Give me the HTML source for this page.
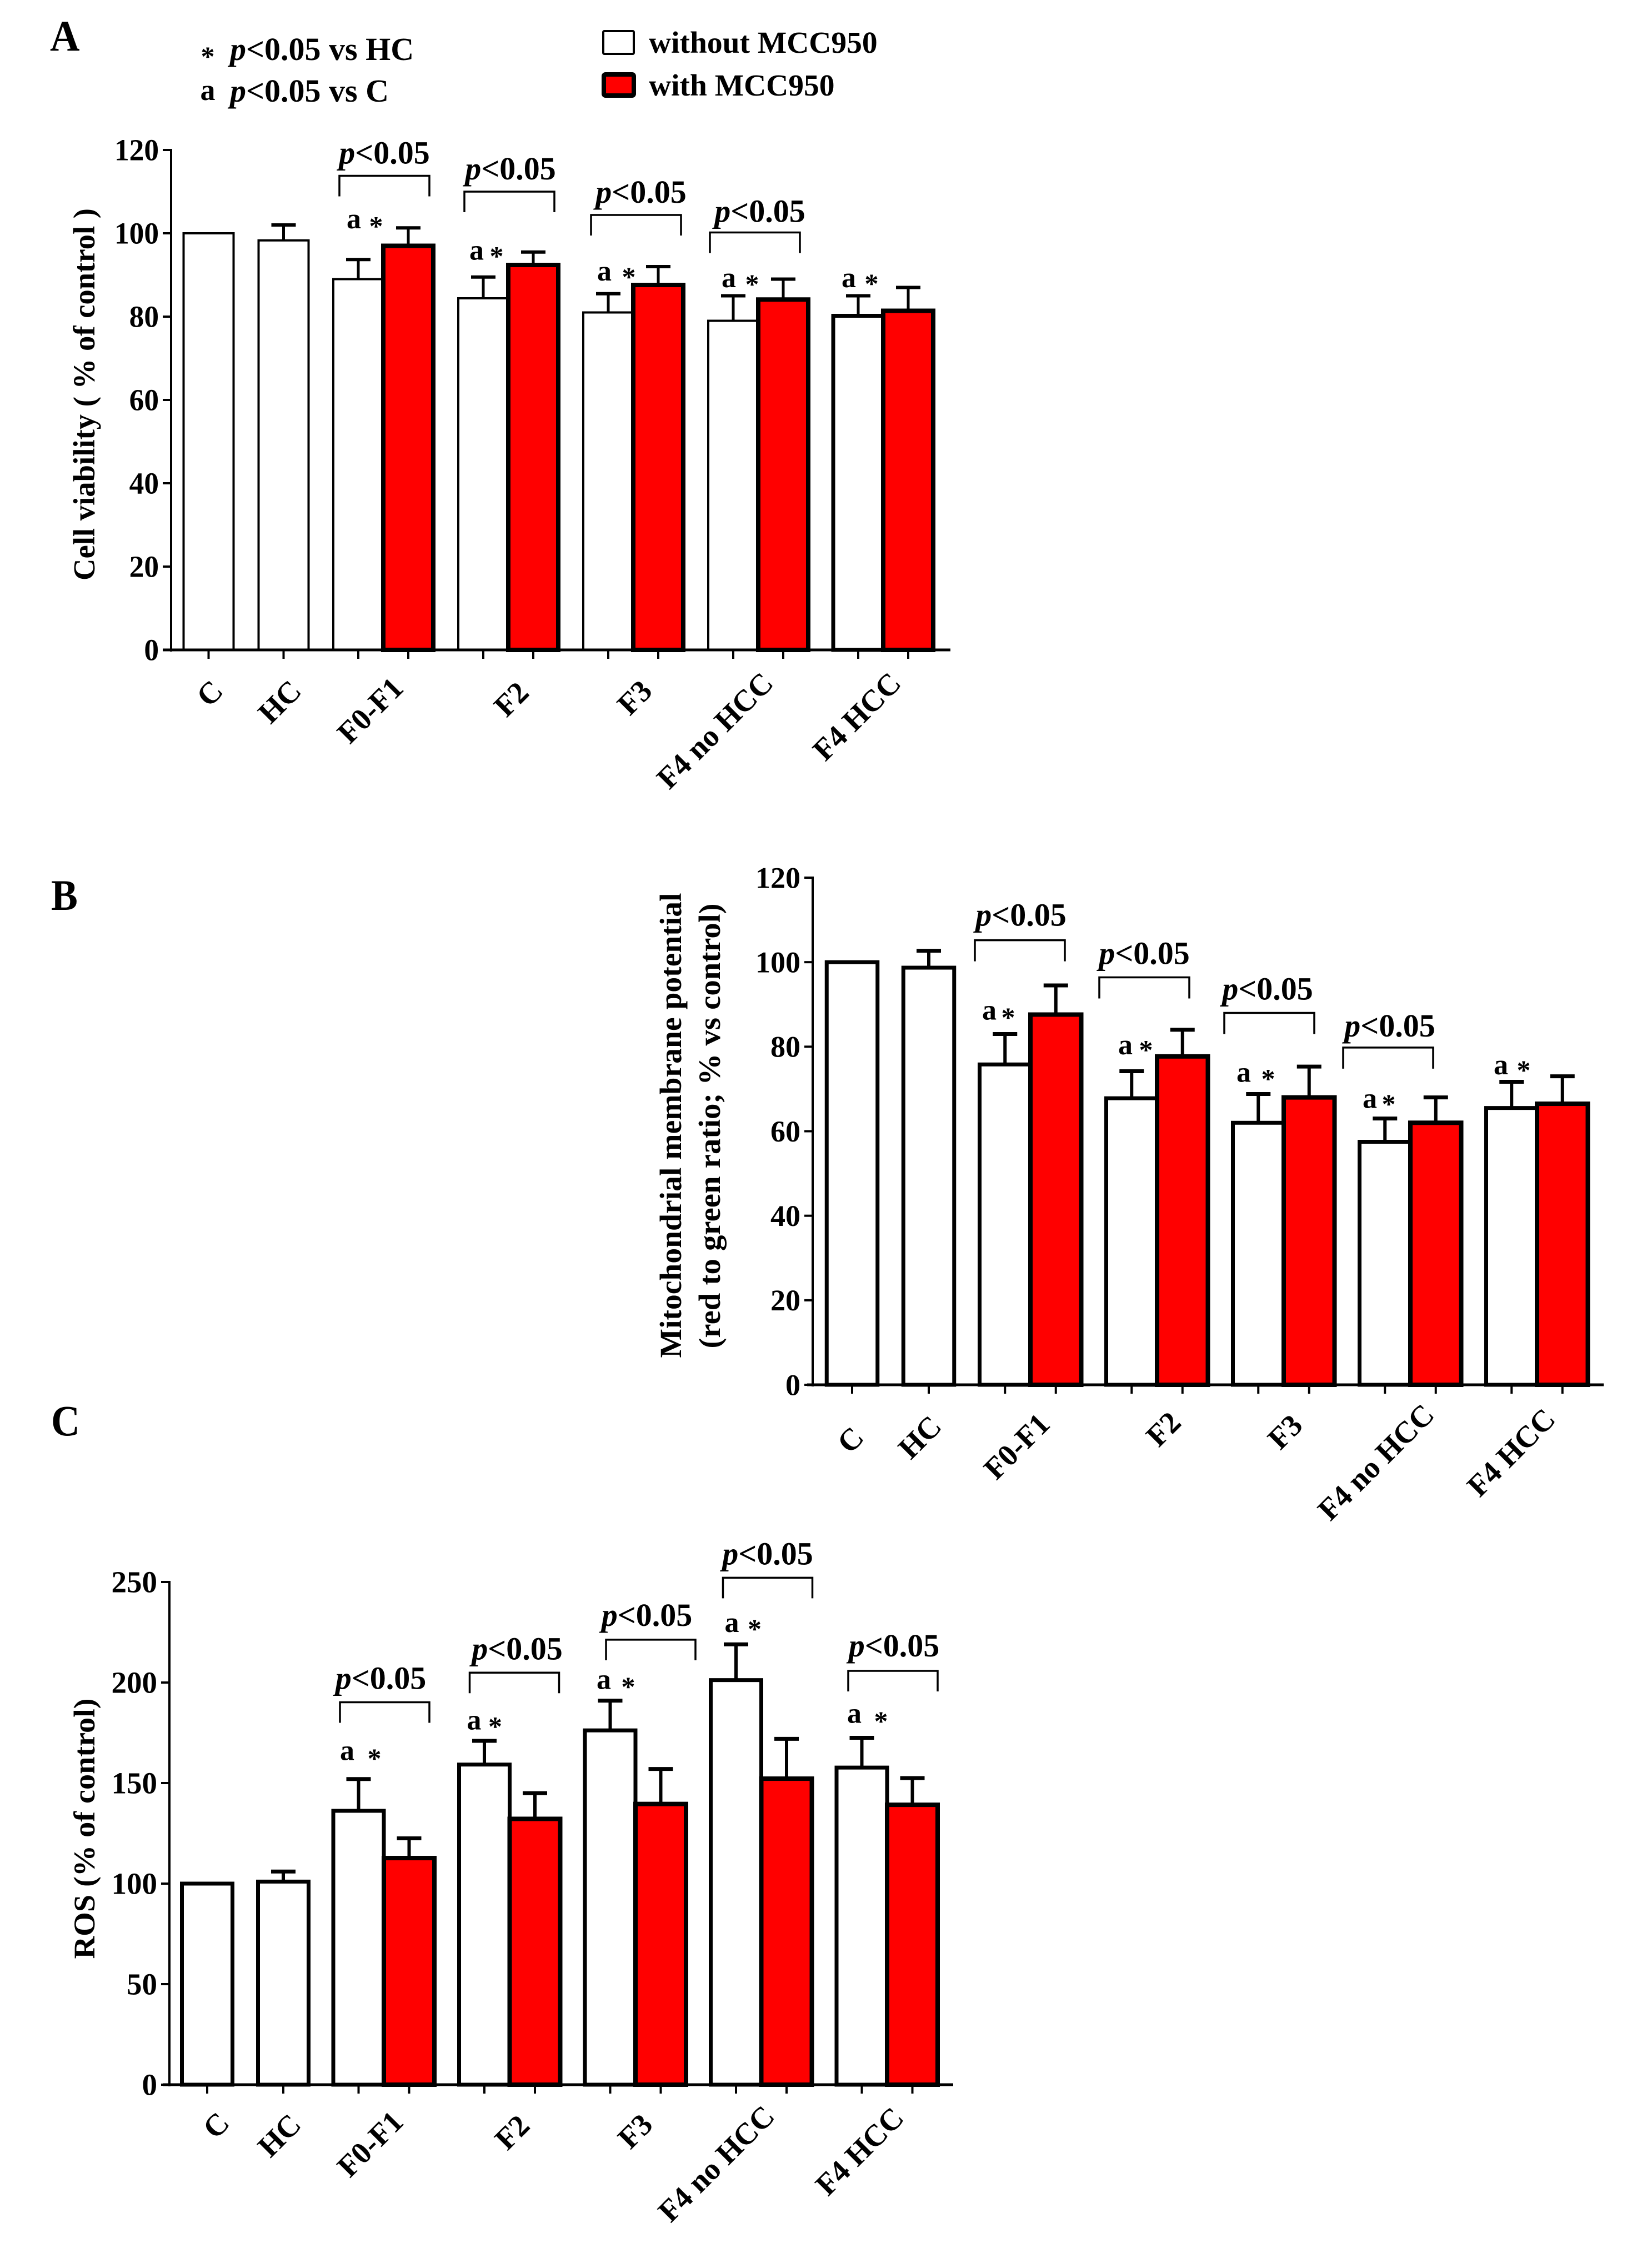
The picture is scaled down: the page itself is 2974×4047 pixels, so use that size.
<!DOCTYPE html>
<html>
<head>
<meta charset="utf-8">
<title>MCC950 bar charts</title>
<style>
html,body{margin:0;padding:0;background:#fff;}
svg{display:block;}
text{font-family:"Liberation Serif",serif;font-weight:bold;fill:#000;}
</style>
</head>
<body>
<svg id="fig" xmlns="http://www.w3.org/2000/svg" width="2974" height="4047" viewBox="0 0 2974 4047">
<rect width="2974" height="4047" fill="#fff"/>
<text transform="translate(90,91) scale(.95,1)" font-size="78">A</text>
<text transform="translate(92,1638) scale(.92,1)" font-size="78">B</text>
<text transform="translate(92,2584) scale(.92,1)" font-size="78">C</text>
<g>
<text transform="translate(374,118)" font-size="50" text-anchor="middle">*</text>
<text transform="translate(414,108)" font-size="58"><tspan font-style="italic">p</tspan>&lt;0.05 vs HC</text>
<text transform="translate(374,180)" font-size="54" text-anchor="middle">a</text>
<text transform="translate(414,183)" font-size="58"><tspan font-style="italic">p</tspan>&lt;0.05 vs C</text>
</g>
<g>
<rect x="1086" y="56" width="55" height="41" fill="#fff" stroke="#000" stroke-width="4" rx="2"/>
<text transform="translate(1168,95)" font-size="55.5">without MCC950</text>
<rect x="1087" y="134" width="54" height="38" fill="#ff0000" stroke="#000" stroke-width="8" rx="3"/>
<text transform="translate(1168,172)" font-size="55.5">with MCC950</text>
</g>
</svg>
<script>
const categories = ['C','HC','F0-F1','F2','F3','F4 no HCC','F4 HCC'];

const ticksA = [0,20,40,60,80,100,120];
const withoutA = [100,98.3,89,84.4,81,79,80.2];
const withoutErrA = [0,3.7,4.7,5.1,4.5,6,4.8];
const withA = [null,null,97,92.4,87.6,84.1,81.4];
const withErrA = [null,null,4.3,3.1,4.4,4.9,5.6];
const bracketGroupsA = [2,3,4,5];
const bracketValuesA = [113.8,110,104.4,100.2];
const markerGroupsA = [2,3,4,5,6];
const markerLetterValuesA = [101.2,93.7,88.7,87.1,87.1];
const markerStarValuesA = [102.6,95.4,90.4,88.7,88.8];

const ticksB = [0,20,40,60,80,100,120];
const withoutB = [100,98.7,75.8,67.8,62,57.5,65.5];
const withoutErrB = [0,4,7.2,6.4,6.8,5.5,6.2];
const withB = [null,null,87.6,77.7,68,62,66.5];
const withErrB = [null,null,6.9,6.3,7.3,6,6.5];
const bracketGroupsB = [2,3,4,5];
const bracketValuesB = [105.2,96.4,88,79.8];
const markerGroupsB = [2,3,4,5,6];
const markerLetterValuesB = [86.4,78.2,71.7,65.5,73.5];
const markerStarValuesB = [87.8,80.1,73.3,67.3,75.3];

const ticksC = [0,50,100,150,200,250];
const withoutC = [100,101,136.2,159.2,176.2,201.2,157.7];
const withoutErrC = [0,5,15.8,11.8,14.8,17.8,14.8];
const withC = [null,null,112.7,132.2,139.6,152.2,139.2];
const withErrC = [null,null,9.8,12.8,17.4,19.8,13.3];
const bracketGroupsC = [2,3,4,5,6];
const bracketValuesC = [190.2,204.9,221.3,252.1,205.8];
const markerGroupsC = [2,3,4,5,6];
const markerLetterValuesC = [161.4,176.6,196.8,225.1,180];
const markerStarValuesC = [164.1,180,199.7,228.4,182.6];

const svg = document.getElementById('fig');
const NS = 'http://www.w3.org/2000/svg';

function make(parent, tag, attrs) {
  const el = document.createElementNS(NS, tag);
  for (const k in attrs) el.setAttribute(k, attrs[k]);
  
  parent.appendChild(el);
  return el;
}

function drawPanel(p) {
  const root = make(svg, 'g', {});
  
  const yMax = p.ticks[p.ticks.length - 1];
  const yOf = v => p.y0 - (p.y0 - p.yTop) * v / yMax;
  const centerOf = i => i < 2 ? p.singleStart + i * p.singleStep : p.groupStart + (i - 2) * p.groupStep;

  // error bars
  const drawErr = (cx, val, err, name) => {
    if (val === null || !err) return;
    const stem = make(root, 'line', {x1: cx, x2: cx, y1: yOf(val), y2: yOf(val + err), stroke: '#000', 'stroke-width': p.errW});
    
    const cap = make(root, 'line', {x1: cx - 22, x2: cx + 22, y1: yOf(val + err), y2: yOf(val + err), stroke: '#000', 'stroke-width': p.capW});
    
  };
  const whiteX = i => i < 2 ? centerOf(i) - p.barW / 2 : centerOf(i) - p.barW;
  const redX = i => centerOf(i);
  categories.forEach((c, i) => {
    drawErr(whiteX(i) + p.barW / 2, p.without[i], p.withoutErr[i], p.id + '-without-' + i);
    if (p.withVals[i] !== null) drawErr(redX(i) + p.barW / 2, p.withVals[i], p.withErr[i], p.id + '-with-' + i);
  });
  // bars
  categories.forEach((c, i) => {
    const sw = (p.whiteW[i] !== undefined) ? p.whiteW[i] : p.whiteW[0];
    const w = make(root, 'rect', {x: whiteX(i), y: yOf(p.without[i]), width: p.barW, height: p.y0 - yOf(p.without[i]), fill: '#fff', stroke: '#000', 'stroke-width': sw});
    
  });
  categories.forEach((c, i) => {
    if (p.withVals[i] === null) return;
    const r = make(root, 'rect', {x: redX(i), y: yOf(p.withVals[i]), width: p.barW, height: p.y0 - yOf(p.withVals[i]), fill: '#ff0000', stroke: '#000', 'stroke-width': p.redW});
    
  });
  // axes
  const ya = make(root, 'line', {x1: p.axisX, x2: p.axisX, y1: p.yTop - 2, y2: p.y0 + 3, stroke: '#000', 'stroke-width': p.yAxisW});
  
  const xa = make(root, 'line', {x1: p.xStart, x2: p.xEnd, y1: p.y0, y2: p.y0, stroke: '#000', 'stroke-width': p.xAxisW});
  
  p.ticks.forEach(t => {
    const tk = make(root, 'line', {x1: p.axisX - 15, x2: p.axisX, y1: yOf(t), y2: yOf(t), stroke: '#000', 'stroke-width': 4});
    
    const lb = make(root, 'text', {transform: 'translate(' + (p.axisX - 22) + ',' + (yOf(t) + p.tickFs * 0.34) + ') scale(' + p.tickSx + ',1)', 'font-size': p.tickFs, 'text-anchor': 'end'});
    
    lb.textContent = String(t);
  });
  const xTick = (x, name) => {
    const tk = make(root, 'line', {x1: x, x2: x, y1: p.y0, y2: p.y0 + 16, stroke: '#000', 'stroke-width': 4});
    
  };
  categories.forEach((c, i) => {
    xTick(whiteX(i) + p.barW / 2, p.id + '-x-tick');
    if (p.withVals[i] !== null) xTick(redX(i) + p.barW / 2, p.id + '-x-tick');
    const ax = centerOf(i) + p.labelDx[i];
    const ay = p.y0 + p.labelDy[i];
    const lb = make(root, 'text', {transform: 'translate(' + ax + ',' + ay + ') rotate(-45)', 'font-size': p.labelFs, 'text-anchor': 'end'});
    
    lb.textContent = c;
  });
  // y title
  p.titles.forEach(t => {
    const tt = make(root, 'text', {transform: 'translate(' + t.x + ',' + t.cy + ') rotate(-90)', 'font-size': t.fs, 'text-anchor': 'middle', textLength: t.len, lengthAdjust: 'spacingAndGlyphs'});
    
    tt.textContent = t.text;
  });
  // brackets
  p.bracketGroups.forEach((g, k) => {
    const top = yOf(p.bracketValues[k]);
    const x1 = centerOf(g) + p.bracketDx[k];
    const x2 = x1 + p.bracketW;
    const br = make(root, 'path', {d: 'M' + x1 + ' ' + (top + p.bracketH) + 'V' + top + 'H' + x2 + 'V' + (top + p.bracketH), fill: 'none', stroke: '#000', 'stroke-width': 3.5});
    
    const tx = x1 + p.bracketW / 2 + p.pDx[k];
    const pt = make(root, 'text', {transform: 'translate(' + tx + ',' + (top - p.pGap + p.pDy[k]) + ')', 'font-size': p.pFs, 'text-anchor': 'middle'});
    
    const ital = make(pt, 'tspan', {'font-style': 'italic'});
    
    ital.textContent = 'p';
    pt.appendChild(document.createTextNode('<0.05'));
  });
  // markers
  p.markerGroups.forEach((g, k) => {
    const la = make(root, 'text', {transform: 'translate(' + (centerOf(g) + p.aDx[k]) + ',' + yOf(p.markerLetter[k]) + ')', 'font-size': 52, 'text-anchor': 'middle'});
    
    la.textContent = 'a';
    const st = make(root, 'text', {transform: 'translate(' + (centerOf(g) + p.starDx[k]) + ',' + (yOf(p.markerStar[k]) + 23) + ')', 'font-size': 50, 'text-anchor': 'middle'});
    
    st.textContent = '*';
  });
}

drawPanel({
  id: 'panel-a', ticks: ticksA, without: withoutA, withoutErr: withoutErrA, withVals: withA, withErr: withErrA,
  bracketGroups: bracketGroupsA, bracketValues: bracketValuesA, markerGroups: markerGroupsA, markerLetter: markerLetterValuesA, markerStar: markerStarValuesA,
  y0: 1170, yTop: 270, axisX: 308, xStart: 293, xEnd: 1711,
  singleStart: 375.5, singleStep: 135, groupStart: 690, groupStep: 225, barW: 90,
  whiteW: [4,4,4,4,4,4,7], redW: 8, errW: 5, capW: 6, yAxisW: 4, xAxisW: 5,
  tickFs: 55, tickSx: .97, labelFs: 55, labelDy: [77,77,72,80,77,63,63], labelDx: [29,35,39,40,37,30,35],
  titles: [{text: 'Cell viability ( % of control )', x: 170, cy: 710, fs: 55, len: 670}],
  bracketDx: [-79,-79,-76,-87], bracketW: 162, bracketH: 37, pDx: [0,2,9,9], pGap: 22, pDy: [0,0,0,3], pFs: 58,
  aDx: [-53,-57,-52,-53,-62], starDx: [-13,-21,-8,-11,-21]
});

drawPanel({
  id: 'panel-b', ticks: ticksB, without: withoutB, withoutErr: withoutErrB, withVals: withB, withErr: withErrB,
  bracketGroups: bracketGroupsB, bracketValues: bracketValuesB, markerGroups: markerGroupsB, markerLetter: markerLetterValuesB, markerStar: markerStarValuesB,
  y0: 2493, yTop: 1580, axisX: 1463, xStart: 1453, xEnd: 2887,
  singleStart: 1534, singleStep: 138, groupStart: 1855, groupStep: 228, barW: 91.5,
  whiteW: [7], redW: 8, errW: 6, capW: 7, yAxisW: 4, xAxisW: 5,
  tickFs: 54, tickSx: 1, labelFs: 55, labelDy: [98,78,74,71,76,57,65], labelDx: [24,26,38,46,37,46,36],
  titles: [
    {text: 'Mitochondrial membrane potential', x: 1226, cy: 2026, fs: 55, len: 837},
    {text: '(red to green ratio; % vs control)', x: 1296, cy: 2027, fs: 55, len: 801}
  ],
  bracketDx: [-100,-104,-107,-121], bracketW: 162, bracketH: 38, pDx: [2,0,-3,3], pGap: 28, pDy: [2,4,4,8], pFs: 58,
  aDx: [-74,-57,-72,-73,-65], starDx: [-40,-20,-28,-39,-24]
});

drawPanel({
  id: 'panel-c', ticks: ticksC, without: withoutC, withoutErr: withoutErrC, withVals: withC, withErr: withErrC,
  bracketGroups: bracketGroupsC, bracketValues: bracketValuesC, markerGroups: markerGroupsC, markerLetter: markerLetterValuesC, markerStar: markerStarValuesC,
  y0: 3753, yTop: 2848, axisX: 305, xStart: 293, xEnd: 1716,
  singleStart: 373, singleStep: 137, groupStart: 691, groupStep: 226.5, barW: 91,
  whiteW: [7], redW: 8, errW: 6, capW: 7, yAxisW: 4, xAxisW: 5,
  tickFs: 55, tickSx: 1, labelFs: 55, labelDy: [72,75,70,77,75,60,63], labelDx: [43,35,38,39,34,27,33],
  titles: [{text: 'ROS (% of control)', x: 170, cy: 3292, fs: 54, len: 469}],
  bracketDx: [-79,-72,-53,-69,-70], bracketW: 161, bracketH: 37, pDx: [-7,5,-7,0,2], pGap: 24, pDy: [0,0,-1,0,-2], pFs: 58,
  aDx: [-66,-64,-57,-53,-59], starDx: [-17,-26,-13,-12,-11]
});
</script>
</body>
</html>
